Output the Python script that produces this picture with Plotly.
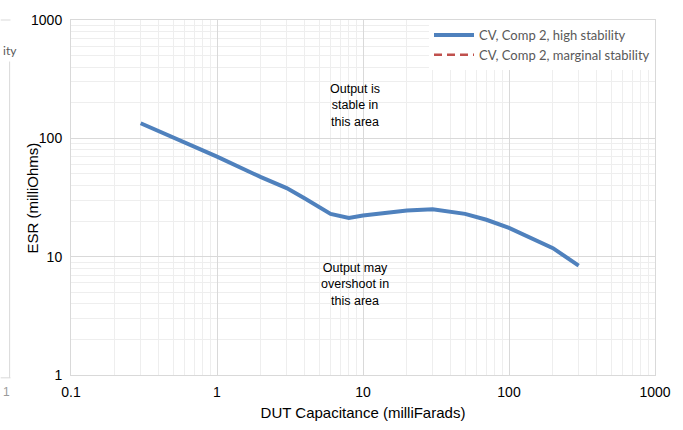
import plotly.graph_objects as go

# DUT capacitance (mF) and measured ESR boundary (mOhm)
cap_high = [0.3, 0.5, 1, 2, 3, 4, 6, 8, 10, 20, 30, 50, 70, 100, 200, 300]
esr_high = [134, 102, 70, 47, 38, 31, 23, 21.2, 22.3, 24.6, 25.2, 23, 20.5, 17.5, 11.8, 8.4]

# marginal-stability series has no points inside the plotted range
cap_marginal = [None]
esr_marginal = [None]

x_ticks = [0.1, 1, 10, 100, 1000]
y_ticks = [1, 10, 100, 1000]

fig = go.Figure()
fig.add_trace(go.Scatter(
    x=cap_high, y=esr_high, mode="lines",
    name="CV, Comp 2, high stability",
    line=dict(color="#4F81BD", width=4),
))
fig.add_trace(go.Scatter(
    x=cap_marginal, y=esr_marginal, mode="lines",
    name="CV, Comp 2, marginal stability",
    line=dict(color="#C0504D", width=2.5, dash="8px,5px"),
))

axis_font = dict(family="Liberation Sans, Arial", size=14, color="#000000")
title_font = dict(family="Liberation Sans, Arial", size=15, color="#000000")

fig.update_xaxes(
    type="log", range=[-1, 3],
    tickvals=x_ticks, ticktext=[str(v) for v in x_ticks],
    tickfont=axis_font,
    showgrid=True, gridcolor="#D9D9D9", gridwidth=1,
    minor=dict(dtick="D1", showgrid=True, gridcolor="#EEEEEE", gridwidth=1),
    showline=True, linecolor="#D9D9D9", linewidth=1, mirror=True,
    ticks="outside", ticklen=4, tickcolor="rgba(0,0,0,0)",
    zeroline=False,
    title=dict(text="DUT Capacitance (milliFarads)", font=title_font, standoff=8),
)
fig.update_yaxes(
    type="log", range=[0, 3],
    tickvals=y_ticks, ticktext=[str(v) for v in y_ticks],
    tickfont=axis_font,
    showgrid=True, gridcolor="#D9D9D9", gridwidth=1,
    minor=dict(dtick="D1", showgrid=True, gridcolor="#EEEEEE", gridwidth=1),
    showline=True, linecolor="#D9D9D9", linewidth=1, mirror=True,
    ticks="outside", ticklen=5, tickcolor="rgba(0,0,0,0)",
    zeroline=False,
)

# y-axis title placed close to the tick labels
fig.add_annotation(x=-0.0831, y=0.5, xref="paper", yref="paper",
                   text="ESR (milliOhms)", textangle=-90, showarrow=False,
                   font=title_font)

note_font = dict(family="Liberation Sans, Arial", size=12.5, color="#000000")
fig.add_annotation(x=0.946, y=2.279, xref="x", yref="y",
                   text="Output is<br>stable in<br>this area",
                   showarrow=False, font=note_font, align="center")
fig.add_annotation(x=0.946, y=0.762, xref="x", yref="y",
                   text="Output may<br>overshoot in<br>this area",
                   showarrow=False, font=note_font, align="center")

# clipped edge of the neighbouring panel on the far left
edge = "#D9D9D9"
fig.add_shape(type="line", xref="paper", yref="paper",
              x0=-0.1203, x1=-0.1036, y0=1, y1=1, line=dict(color=edge, width=1))
fig.add_shape(type="line", xref="paper", yref="paper",
              x0=-0.1051, x1=-0.1051, y0=-0.008, y1=0.883, line=dict(color=edge, width=1))
fig.add_shape(type="line", xref="paper", yref="paper",
              x0=-0.1203, x1=-0.1036, y0=-0.008, y1=-0.008, line=dict(color=edge, width=1))
fig.add_annotation(x=-0.1203, y=0.915, xref="paper", yref="paper",
                   xanchor="left", yanchor="middle",
                   text="ity", showarrow=False,
                   font=dict(family="Lato, Open Sans", size=12, color="#595959"))
fig.add_annotation(x=-0.1100, y=-0.048, xref="paper", yref="paper",
                   xanchor="center", yanchor="middle",
                   text="1", showarrow=False,
                   font=dict(family="Liberation Sans, Arial", size=12, color="#9A9A9A"))

fig.update_layout(
    width=683, height=430,
    margin=dict(l=71, r=22, t=20, b=52),
    plot_bgcolor="#FFFFFF", paper_bgcolor="#FFFFFF",
    showlegend=True,
    legend=dict(
        x=1, y=1, xanchor="right", yanchor="top",
        bgcolor="#FFFFFF", borderwidth=0,
        font=dict(family="Lato, Open Sans", size=13, color="#595959"),
        itemwidth=40, tracegroupgap=0,
    ),
)

fig.write_html("out.html")
